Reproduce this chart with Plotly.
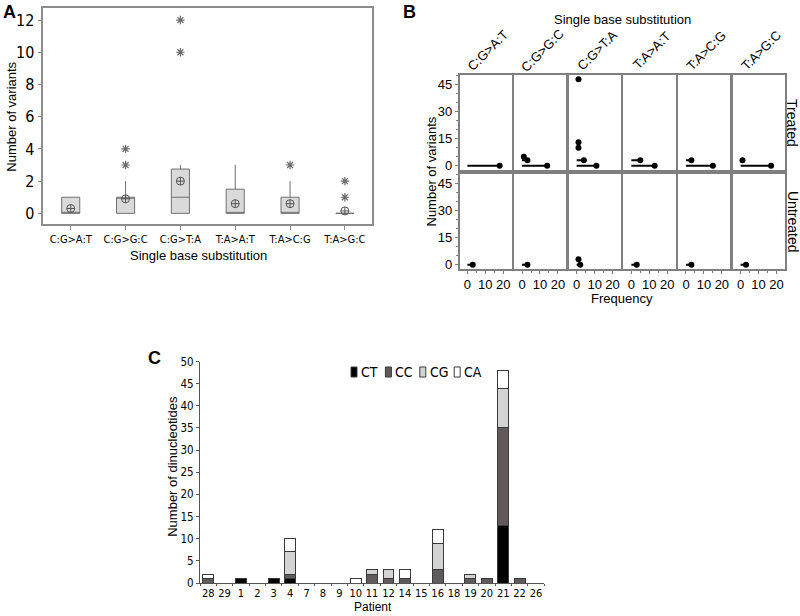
import plotly.graph_objects as go

# ---------------- data ----------------
# Panel A: box plot summary per substitution type
a_cats = ["C:G>A:T", "C:G>G:C", "C:G>T:A", "T:A>A:T", "T:A>C:G", "T:A>G:C"]
a_q1 = [0, 0, 0, 0, 0, 0]
a_median = [0, 1, 1, 0, 0, 0]
a_q3 = [1, 1, 2.75, 1.5, 1, 0]
a_lower = [0, 0, 0, 0, 0, 0]
a_upper = [1, 2, 3, 3, 2, 0]
a_mean = [0.3, 0.9, 2.0, 0.6, 0.6, 0.15]
a_out_cat = ["C:G>G:C", "C:G>G:C", "C:G>T:A", "C:G>T:A", "T:A>C:G", "T:A>G:C", "T:A>G:C"]
a_out_val = [3, 4, 10, 12, 3, 1, 2]

# Panel B: number of variants (y) vs frequency (x), per substitution and group
b_subs = a_cats
b_groups = ["Treated", "Untreated"]
b_treated_values = [[0], [0, 3, 5], [0, 3, 10, 13, 48], [0, 3], [0, 3], [0, 3]]
b_treated_freq = [[18], [14, 3, 1], [11, 4, 1, 1, 1], [13, 5], [15, 3], [17, 1]]
b_untreated_values = [[0], [0], [0, 3], [0], [0], [0]]
b_untreated_freq = [[3], [3], [2, 1], [3], [3], [3]]

# Panel C: dinucleotide counts per patient
c_patients = ["28", "29", "1", "2", "3", "4", "7", "8", "9", "10", "11", "12",
              "14", "15", "16", "18", "19", "20", "21", "22", "26"]
c_CT = [0, 0, 1, 0, 1, 1, 0, 0, 0, 0, 0, 0, 0, 0, 0, 0, 0, 0, 13, 0, 0]
c_CC = [1, 0, 0, 0, 0, 1, 0, 0, 0, 0, 2, 1, 1, 0, 3, 0, 1, 1, 22, 1, 0]
c_CG = [0, 0, 0, 0, 0, 5, 0, 0, 0, 0, 1, 2, 0, 0, 6, 0, 1, 0, 9, 0, 0]
c_CA = [1, 0, 0, 0, 0, 3, 0, 0, 0, 1, 0, 0, 2, 0, 3, 0, 0, 0, 4, 0, 0]
c_series = ["CT", "CC", "CG", "CA"]
c_colors = ["#000000", "#605a5a", "#d3d3d3", "#ffffff"]

# ---------------- helpers ----------------
W, H = 800, 616
NARROW = "Liberation Sans Narrow, Arial Narrow, DejaVu Sans Condensed, sans-serif"
REG = "Liberation Sans, Arial, Helvetica, sans-serif"


def px(x):
    return x / W


def py(y):
    return 1 - y / H


def note(text, x, y, size=13, family=REG, angle=0, xanchor="center", yanchor="middle"):
    return dict(text=text, x=px(x), y=py(y), xref="paper", yref="paper",
                xanchor=xanchor, yanchor=yanchor, textangle=angle, showarrow=False,
                font=dict(size=size, family=family, color="black"))


fig = go.Figure()
layout = dict(template="none", width=W, height=H, autosize=False,
              margin=dict(l=0, r=0, t=0, b=0, pad=0),
              paper_bgcolor="white", plot_bgcolor="white", showlegend=False,
              barmode="stack", font=dict(family=REG, color="black", size=13))
annotations = []
shapes = []

# ---------------- Panel A ----------------
GRAY = "#707070"
fig.add_trace(go.Box(x=a_cats, q1=a_q1, median=a_median, q3=a_q3,
                     lowerfence=a_lower, upperfence=a_upper,
                     boxpoints=False, width=0.33, whiskerwidth=0,
                     fillcolor="#dadada", line=dict(color=GRAY, width=1),
                     xaxis="x", yaxis="y", hoverinfo="skip"))
fig.add_trace(go.Scatter(x=a_out_cat, y=a_out_val, mode="markers",
                         marker=dict(symbol="asterisk-open", size=7, color="#6a6a6a",
                                     line=dict(color="#6a6a6a", width=1.2)),
                         xaxis="x", yaxis="y"))
fig.add_trace(go.Scatter(x=a_cats, y=a_mean, mode="markers",
                         marker=dict(symbol="circle-cross-open", size=8,
                                     color="#555555", line=dict(width=1)),
                         xaxis="x", yaxis="y"))
layout["xaxis"] = dict(domain=[px(43.3), px(372.3)], anchor="y", type="category",
                       range=[-0.5, 5.5], showline=True, mirror=True, automargin=False,
                       linecolor="#8c8c8c", linewidth=1.5, ticks="outside",
                       ticklen=4, tickcolor="#8c8c8c", showgrid=False, zeroline=False,
                       tickangle=0,
                       tickfont=dict(family=NARROW, size=11, color="black"))
layout["yaxis"] = dict(domain=[py(224.3), py(8.3)], anchor="x", range=[-0.68, 12.73],
                       tickvals=[0, 2, 4, 6, 8, 10, 12], showline=True, mirror=True,
                       automargin=False,
                       linecolor="#8c8c8c", linewidth=1.5, ticks="outside", ticklen=4,
                       tickcolor="#8c8c8c", showgrid=False, zeroline=False,
                       tickfont=dict(family=NARROW, size=16, color="black"))
annotations += [
    note("<b>A</b>", 1, 0, size=18, xanchor="left", yanchor="top"),
    note("Number of variants", 12, 116.7, angle=-90),
    note("Single base substitution", 198.8, 255),
]

# ---------------- Panel B ----------------
col_left0, col_step, col_w = 459.5, 54.65, 52.2
rows_px = [(75, 170), (174, 269)]
b_vals = [b_treated_values, b_untreated_values]
b_freqs = [b_treated_freq, b_untreated_freq]
PANEL_LINE = "#7f7f7f"
for r in range(2):
    for c in range(6):
        idx = 2 + r * 6 + c
        xa, ya = f"x{idx}", f"y{idx}"
        vals, freqs = b_vals[r][c], b_freqs[r][c]
        sx, sy = [], []
        for v, f in zip(vals, freqs):
            sx += [0, f, None]
            sy += [v, v, None]
        fig.add_trace(go.Scatter(x=sx, y=sy, mode="lines",
                                 line=dict(color="black", width=2),
                                 xaxis=xa, yaxis=ya))
        fig.add_trace(go.Scatter(x=freqs, y=vals, mode="markers",
                                 marker=dict(color="black", size=6),
                                 xaxis=xa, yaxis=ya))
        left = col_left0 + c * col_step
        top, bot = rows_px[r]
        bottom_row = (r == 1)
        left_col = (c == 0)
        layout[f"xaxis{idx}"] = dict(
            domain=[px(left), px(left + col_w)], anchor=ya, range=[-4.4, 24.7],
            showline=True, mirror=True, linecolor=PANEL_LINE, linewidth=1.5,
            automargin=False, tickangle=0,
            showgrid=False, zeroline=False, tickvals=[0, 10, 20],
            ticks="outside" if bottom_row else "", ticklen=3, tickcolor=PANEL_LINE,
            showticklabels=bottom_row,
            minor=dict(ticks="outside" if bottom_row else "", dtick=5, ticklen=2,
                       tickcolor=PANEL_LINE),
            tickfont=dict(family=REG, size=13, color="black"))
        layout[f"yaxis{idx}"] = dict(
            domain=[py(bot), py(top)], anchor=xa, range=[-2.4, 50.4],
            showline=True, mirror=True, linecolor=PANEL_LINE, linewidth=1.5,
            automargin=False,
            showgrid=False, zeroline=False, tickvals=[0, 15, 30, 45],
            ticks="outside" if left_col else "", ticklen=3, tickcolor=PANEL_LINE,
            showticklabels=left_col,
            minor=dict(ticks="outside" if left_col else "", dtick=5, ticklen=2,
                       tickcolor=PANEL_LINE),
            tickfont=dict(family=REG, size=13, color="black"))
    annotations.append(note(b_groups[r], 792.5, (rows_px[r][0] + rows_px[r][1]) / 2,
                            size=14, angle=90))
for c in range(6):
    left = col_left0 + c * col_step
    annotations.append(note(b_subs[c], left + 28, 50, size=13, angle=-45))
annotations += [
    note("<b>B</b>", 401, 0, size=18, xanchor="left", yanchor="top"),
    note("Single base substitution", 622, 19),
    note("Number of variants", 430.5, 172, angle=-90),
    note("Frequency", 622, 298),
]

# ---------------- Panel C ----------------
c_data = [c_CT, c_CC, c_CG, c_CA]
for name, vals, col in zip(c_series, c_data, c_colors):
    # zero-count layers are left out so no empty outline is drawn on the baseline
    fig.add_trace(go.Bar(x=c_patients, y=[v if v else None for v in vals], name=name,
                         width=0.67,
                         marker=dict(color=col, line=dict(color="#3a3a3a", width=1)),
                         xaxis="x14", yaxis="y14"))
layout["xaxis14"] = dict(domain=[px(200), px(544.2)], anchor="y14", type="category",
                         range=[-0.5, 20.5], showline=True, linecolor="#555555",
                         linewidth=1, ticks="outside", tickson="boundaries", ticklen=2,
                         tickcolor="#555555", showgrid=False, zeroline=False,
                         automargin=False, tickangle=0,
                         tickfont=dict(family=NARROW, size=11, color="black"))
layout["yaxis14"] = dict(domain=[py(583), py(361.5)], anchor="x14", range=[0, 50],
                         dtick=5, showline=True, linecolor="#555555", linewidth=1,
                         ticks="outside", ticklen=3, tickcolor="#555555",
                         showgrid=False, zeroline=False, automargin=False,
                         tickfont=dict(family=NARROW, size=11.5, color="black"))
annotations += [
    note("<b>C</b>", 146, 346, size=18, xanchor="left", yanchor="top"),
    note("Number of dinucleotides", 173, 466.8, angle=-90),
    note("Patient", 372.7, 616, size=12, yanchor="bottom"),
]
# legend keys for panel C
for i, (name, col) in enumerate(zip(c_series, c_colors)):
    x0 = 351 + i * 34.4
    shapes.append(dict(type="rect", xref="paper", yref="paper",
                       x0=px(x0), x1=px(x0 + 6), y0=py(377), y1=py(367),
                       fillcolor=col, line=dict(color="#3a3a3a", width=1)))
    annotations.append(note(name, x0 + 8, 372.3, size=14, family=NARROW, xanchor="left"))

layout["annotations"] = annotations
layout["shapes"] = shapes
fig.update_layout(**layout)
fig.write_html("out.html", config={"displayModeBar": False},
               post_script="document.body.style.margin='0';document.body.style.padding='0';")
